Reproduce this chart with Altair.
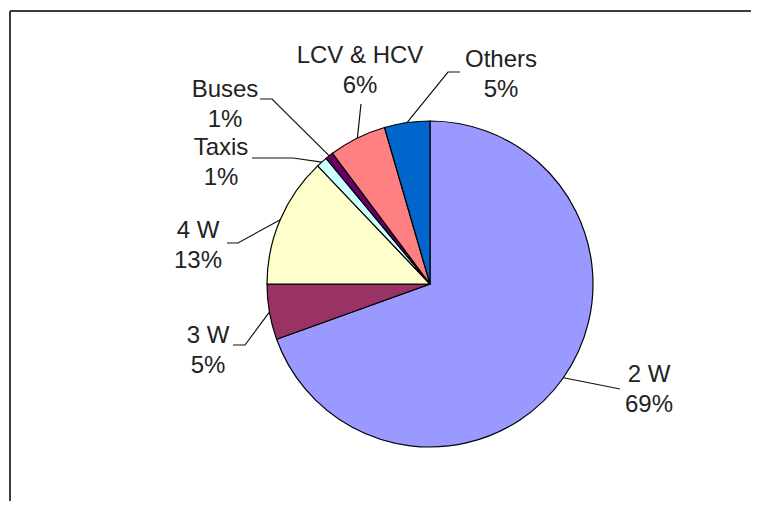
import math
import altair as alt
import pandas as pd

# ---- data ----
categories = ["2 W", "3 W", "4 W", "Taxis", "Buses", "LCV & HCV", "Others"]
values = [69.5, 5.5, 12.9, 1.1, 0.8, 5.7, 4.5]
pct_labels = ["69%", "5%", "13%", "1%", "1%", "6%", "5%"]
colors = ["#9999FF", "#993366", "#FFFFCC", "#CCFFFF", "#660066", "#FF8080", "#0066CC"]

# ---- annotation layout (page pixels) ----
label_x = [649, 208, 198, 221, 225, 360, 501]
label_y = [382, 343, 238, 155, 97, 63, 67]
lead_start_x = [620, 233, 227, 252, 260, 361, 460]
lead_start_y = [389, 345, 243, 158, 99, 104, 72]
lead_elbow_x = [590, 245, 238, 293, 272, 361, 448]
lead_elbow_y = [383, 345, 243, 158, 99, 104, 72]

OX, OY = 10, 11            # page position of the view origin
CX, CY, R = 430 - OX, 284 - OY, 163
W, H = 741, 490

df = pd.DataFrame({
    "cat": categories,
    "value": values,
    "idx": list(range(len(categories))),
    "label": [f"{c}\n{p}" for c, p in zip(categories, pct_labels)],
    "lx": [x - OX for x in label_x],
    "ly": [y - OY for y in label_y],
})

# leader lines: label side -> elbow -> pie edge at slice mid-angle
total = sum(values)
rows = []
cum = 0.0
for i, (c, v) in enumerate(zip(categories, values)):
    mid = (cum + v / 2) / total * 2 * math.pi
    cum += v
    ex = CX + R * math.sin(mid)
    ey = CY - R * math.cos(mid)
    rows.append({"cat": c, "pt": 0, "x": lead_start_x[i] - OX, "y": lead_start_y[i] - OY})
    rows.append({"cat": c, "pt": 1, "x": lead_elbow_x[i] - OX, "y": lead_elbow_y[i] - OY})
    rows.append({"cat": c, "pt": 2, "x": ex, "y": ey})
lead_df = pd.DataFrame(rows)

pie = alt.Chart(df).mark_arc(radius=R, stroke="#000000", strokeWidth=1.2).encode(
    theta=alt.Theta("value:Q", stack=True),
    order=alt.Order("idx:Q"),
    color=alt.Color("cat:N", scale=alt.Scale(domain=categories, range=colors), legend=None),
    x=alt.value(CX),
    y=alt.value(CY),
)

leaders = alt.Chart(lead_df).mark_line(color="#111111", strokeWidth=1.2).encode(
    x=alt.X("x:Q", scale=None, axis=None),
    y=alt.Y("y:Q", scale=None, axis=None),
    detail="cat:N",
    order="pt:Q",
)

labels = alt.Chart(df).mark_text(
    lineBreak="\n", lineHeight=30, align="center", baseline="alphabetic",
    fontSize=24, font="Liberation Sans", color="#222222",
).encode(
    x=alt.X("lx:Q", scale=None, axis=None),
    y=alt.Y("ly:Q", scale=None, axis=None),
    text="label:N",
)

one = alt.Data(values=[{"a": 1}])
frame_top = alt.Chart(one).mark_rule(color="#3c3c3c", strokeWidth=2).encode(
    x=alt.value(0), x2=alt.value(W + 2), y=alt.value(0)
)
frame_left = alt.Chart(one).mark_rule(color="#3c3c3c", strokeWidth=2).encode(
    x=alt.value(0), y=alt.value(0), y2=alt.value(H + 2)
)

chart = alt.layer(frame_top, frame_left, pie, leaders, labels).properties(
    width=W, height=H,
    padding={"left": 2, "top": 3, "right": 0, "bottom": 0},
    autosize="none",
).configure_view(stroke=None)

chart.save("out.html", embed_options={"renderer": "svg", "actions": False})
